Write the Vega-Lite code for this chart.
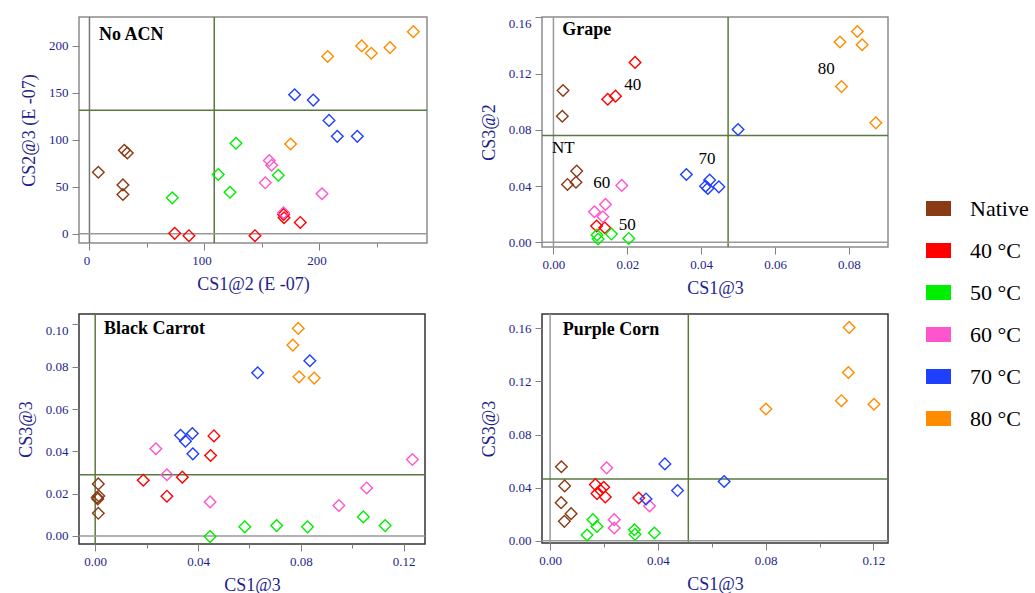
{
  "$schema": "https://vega.github.io/schema/vega-lite/v6.json",
  "padding": {"left": 16, "top": 15, "right": 0, "bottom": 0},
  "background": "white",
  "datasets": {
    "pts": [
      {"p":"A","g":"Native","x":7.7,"y":65.5},{"p":"A","g":"Native","x":30.3,"y":88.8},{"p":"A","g":"Native","x":32.9,"y":86.0},{"p":"A","g":"Native","x":29.1,"y":52.0},{"p":"A","g":"Native","x":29.1,"y":41.8},
      {"p":"A","g":"40 °C","x":74.1,"y":0.4},{"p":"A","g":"40 °C","x":86.5,"y":-2.1},{"p":"A","g":"40 °C","x":143.9,"y":-2.1},{"p":"A","g":"40 °C","x":168.8,"y":20.5},{"p":"A","g":"40 °C","x":169.2,"y":17.0},{"p":"A","g":"40 °C","x":183.3,"y":12.0},
      {"p":"A","g":"50 °C","x":72.0,"y":38.2},{"p":"A","g":"50 °C","x":112.0,"y":63.0},{"p":"A","g":"50 °C","x":127.4,"y":96.3},{"p":"A","g":"50 °C","x":122.2,"y":44.2},{"p":"A","g":"50 °C","x":164.2,"y":62.3},
      {"p":"A","g":"60 °C","x":156.4,"y":77.9},{"p":"A","g":"60 °C","x":158.4,"y":72.9},{"p":"A","g":"60 °C","x":152.9,"y":54.2},{"p":"A","g":"60 °C","x":168.8,"y":22.3},{"p":"A","g":"60 °C","x":202.2,"y":42.5},
      {"p":"A","g":"70 °C","x":178.4,"y":148.0},{"p":"A","g":"70 °C","x":194.6,"y":142.3},{"p":"A","g":"70 °C","x":208.3,"y":120.7},{"p":"A","g":"70 °C","x":215.5,"y":103.7},{"p":"A","g":"70 °C","x":232.9,"y":103.7},
      {"p":"A","g":"80 °C","x":174.9,"y":95.6},{"p":"A","g":"80 °C","x":207.1,"y":188.7},{"p":"A","g":"80 °C","x":236.7,"y":200.0},{"p":"A","g":"80 °C","x":245.1,"y":192.2},{"p":"A","g":"80 °C","x":261.3,"y":198.2},{"p":"A","g":"80 °C","x":281.6,"y":215.2},

      {"p":"B","g":"Native","x":0.0026,"y":0.108},{"p":"B","g":"Native","x":0.0024,"y":0.0897},{"p":"B","g":"Native","x":0.0063,"y":0.0507},{"p":"B","g":"Native","x":0.0061,"y":0.0428},{"p":"B","g":"Native","x":0.0038,"y":0.0412},
      {"p":"B","g":"40 °C","x":0.0221,"y":0.128},{"p":"B","g":"40 °C","x":0.0168,"y":0.104},{"p":"B","g":"40 °C","x":0.0147,"y":0.1018},{"p":"B","g":"40 °C","x":0.0117,"y":0.0116},{"p":"B","g":"40 °C","x":0.0139,"y":0.0104},
      {"p":"B","g":"50 °C","x":0.0118,"y":0.0052},{"p":"B","g":"50 °C","x":0.0121,"y":0.0024},{"p":"B","g":"50 °C","x":0.0157,"y":0.0059},{"p":"B","g":"50 °C","x":0.0204,"y":0.0028},
      {"p":"B","g":"60 °C","x":0.0185,"y":0.0405},{"p":"B","g":"60 °C","x":0.0141,"y":0.027},{"p":"B","g":"60 °C","x":0.0111,"y":0.0218},{"p":"B","g":"60 °C","x":0.0134,"y":0.0182},
      {"p":"B","g":"70 °C","x":0.036,"y":0.0483},{"p":"B","g":"70 °C","x":0.0423,"y":0.0443},{"p":"B","g":"70 °C","x":0.0412,"y":0.040},{"p":"B","g":"70 °C","x":0.0418,"y":0.0384},{"p":"B","g":"70 °C","x":0.0448,"y":0.0395},{"p":"B","g":"70 °C","x":0.05,"y":0.0803},
      {"p":"B","g":"80 °C","x":0.0823,"y":0.150},{"p":"B","g":"80 °C","x":0.0776,"y":0.1425},{"p":"B","g":"80 °C","x":0.0836,"y":0.1406},{"p":"B","g":"80 °C","x":0.078,"y":0.1108},{"p":"B","g":"80 °C","x":0.0873,"y":0.085},

      {"p":"C","g":"Native","x":0.0012,"y":0.0246},{"p":"C","g":"Native","x":0.0014,"y":0.0189},{"p":"C","g":"Native","x":0.001,"y":0.0175},{"p":"C","g":"Native","x":0.0012,"y":0.0107},{"p":"C","g":"Native","x":0.0008,"y":0.0182},
      {"p":"C","g":"40 °C","x":0.0187,"y":0.0263},{"p":"C","g":"40 °C","x":0.0339,"y":0.0278},{"p":"C","g":"40 °C","x":0.0279,"y":0.0188},{"p":"C","g":"40 °C","x":0.0449,"y":0.038},{"p":"C","g":"40 °C","x":0.0462,"y":0.0473},
      {"p":"C","g":"50 °C","x":0.0447,"y":-0.0003},{"p":"C","g":"50 °C","x":0.0582,"y":0.0043},{"p":"C","g":"50 °C","x":0.0706,"y":0.0049},{"p":"C","g":"50 °C","x":0.0826,"y":0.0043},{"p":"C","g":"50 °C","x":0.1043,"y":0.009},{"p":"C","g":"50 °C","x":0.1128,"y":0.0049},
      {"p":"C","g":"60 °C","x":0.0236,"y":0.0412},{"p":"C","g":"60 °C","x":0.0279,"y":0.0289},{"p":"C","g":"60 °C","x":0.0447,"y":0.0161},{"p":"C","g":"60 °C","x":0.0948,"y":0.0144},{"p":"C","g":"60 °C","x":0.1056,"y":0.0227},{"p":"C","g":"60 °C","x":0.1234,"y":0.0361},
      {"p":"C","g":"70 °C","x":0.0332,"y":0.0476},{"p":"C","g":"70 °C","x":0.0378,"y":0.0484},{"p":"C","g":"70 °C","x":0.0351,"y":0.0448},{"p":"C","g":"70 °C","x":0.038,"y":0.0388},{"p":"C","g":"70 °C","x":0.0632,"y":0.0771},{"p":"C","g":"70 °C","x":0.0835,"y":0.0828},
      {"p":"C","g":"80 °C","x":0.079,"y":0.0981},{"p":"C","g":"80 °C","x":0.0769,"y":0.0902},{"p":"C","g":"80 °C","x":0.0793,"y":0.0752},{"p":"C","g":"80 °C","x":0.0852,"y":0.0746},

      {"p":"D","g":"Native","x":0.0042,"y":0.0557},{"p":"D","g":"Native","x":0.0054,"y":0.0413},{"p":"D","g":"Native","x":0.0041,"y":0.0287},{"p":"D","g":"Native","x":0.0078,"y":0.0204},{"p":"D","g":"Native","x":0.0053,"y":0.0146},
      {"p":"D","g":"40 °C","x":0.0168,"y":0.0423},{"p":"D","g":"40 °C","x":0.0199,"y":0.0403},{"p":"D","g":"40 °C","x":0.0174,"y":0.0355},{"p":"D","g":"40 °C","x":0.0205,"y":0.033},{"p":"D","g":"40 °C","x":0.0329,"y":0.0322},{"p":"D","g":"40 °C","x":0.0187,"y":0.038},
      {"p":"D","g":"50 °C","x":0.0159,"y":0.0159},{"p":"D","g":"50 °C","x":0.0174,"y":0.0108},{"p":"D","g":"50 °C","x":0.0137,"y":0.0043},{"p":"D","g":"50 °C","x":0.0313,"y":0.0083},{"p":"D","g":"50 °C","x":0.0315,"y":0.0048},{"p":"D","g":"50 °C","x":0.0387,"y":0.0058},
      {"p":"D","g":"60 °C","x":0.021,"y":0.0549},{"p":"D","g":"60 °C","x":0.0238,"y":0.0159},{"p":"D","g":"60 °C","x":0.0238,"y":0.0096},{"p":"D","g":"60 °C","x":0.0369,"y":0.0262},
      {"p":"D","g":"70 °C","x":0.0426,"y":0.0579},{"p":"D","g":"70 °C","x":0.0473,"y":0.0378},{"p":"D","g":"70 °C","x":0.0356,"y":0.0315},{"p":"D","g":"70 °C","x":0.0646,"y":0.0446},
      {"p":"D","g":"80 °C","x":0.111,"y":0.1607},{"p":"D","g":"80 °C","x":0.1107,"y":0.1267},{"p":"D","g":"80 °C","x":0.1081,"y":0.1055},{"p":"D","g":"80 °C","x":0.1202,"y":0.1028},{"p":"D","g":"80 °C","x":0.0801,"y":0.0992}
    ],
    "rules": [
      {"p":"A","dir":"v","val":0,"kind":"gray"},{"p":"A","dir":"h","val":0,"kind":"gray"},{"p":"A","dir":"v","val":108.5,"kind":"green"},{"p":"A","dir":"h","val":131.4,"kind":"green"},
      {"p":"B","dir":"v","val":0,"kind":"gray"},{"p":"B","dir":"h","val":0,"kind":"gray"},{"p":"B","dir":"v","val":0.0473,"kind":"green"},{"p":"B","dir":"h","val":0.076,"kind":"green"},
      {"p":"C","dir":"v","val":0,"kind":"green"},{"p":"C","dir":"h","val":0,"kind":"gray"},{"p":"C","dir":"h","val":0.0289,"kind":"green"},
      {"p":"D","dir":"v","val":0,"kind":"gray"},{"p":"D","dir":"h","val":0,"kind":"gray"},{"p":"D","dir":"v","val":0.0513,"kind":"green"},{"p":"D","dir":"h","val":0.0465,"kind":"green"}
    ],
    "labels": [
      {"p":"A","t":"No ACN","kind":"title","x":8.3,"y":212},
      {"p":"B","t":"Grape","kind":"title","x":0.0024,"y":0.1513},
      {"p":"C","t":"Black Carrot","kind":"title","x":0.0034,"y":0.0976},
      {"p":"D","t":"Purple Corn","kind":"title","x":0.0047,"y":0.159},
      {"p":"B","t":"40","kind":"note","x":0.0215,"y":0.1117},
      {"p":"B","t":"80","kind":"note","x":0.0739,"y":0.1236},
      {"p":"B","t":"NT","kind":"note","x":0.0027,"y":0.0668},
      {"p":"B","t":"70","kind":"note","x":0.0416,"y":0.0592},
      {"p":"B","t":"60","kind":"note","x":0.0131,"y":0.0419},
      {"p":"B","t":"50","kind":"note","x":0.020,"y":0.0123}
    ]
  },
  "columns": 2,
  "spacing": {"row": 14, "column": 50},
  "resolve": {"scale": {"x": "independent", "y": "independent", "color": "shared"}, "legend": {"color": "shared"}},
  "concat": [
    {
      "width": 348, "height": 226,
      "view": {"stroke": "#8c8c8c", "strokeWidth": 1.5},
      "layer": [
        {"data": {"name": "rules"}, "transform": [{"filter": "datum.p==='A' && datum.dir==='v'"}],
         "mark": {"type": "rule", "strokeWidth": 1.5},
         "encoding": {"x": {"field": "val", "type": "quantitative"},
                      "color": {"condition": {"test": "datum.kind==='green'", "value": "#587a3e"}, "value": "#777777"}}},
        {"data": {"name": "rules"}, "transform": [{"filter": "datum.p==='A' && datum.dir==='h'"}],
         "mark": {"type": "rule", "strokeWidth": 1.5},
         "encoding": {"y": {"field": "val", "type": "quantitative"},
                      "color": {"condition": {"test": "datum.kind==='green'", "value": "#587a3e"}, "value": "#999999"}}},
        {"data": {"name": "pts"}, "transform": [{"filter": "datum.p==='A'"}],
         "mark": {"type": "point", "shape": "diamond", "filled": false, "size": 135, "strokeWidth": 1.4, "opacity": 1},
         "encoding": {
           "x": {"field": "x", "type": "quantitative", "title": "CS1@2 (E -07)",
                 "scale": {"domain": [-9.1, 293.5], "nice": false, "zero": false},
                 "axis": {"values": [0, 50, 100, 150, 200, 250], "labelExpr": "datum.value % 100 === 0 ? datum.label : ''",
                          "tickSize": {"condition": {"test": "datum.value % 100 === 0", "value": 7}, "value": 4}, "labelOffset": -3}},
           "y": {"field": "y", "type": "quantitative", "title": "CS2@3 (E -07)",
                 "scale": {"domain": [-9.9, 230.8], "nice": false, "zero": false},
                 "axis": {"values": [0, 25, 50, 75, 100, 125, 150, 175, 200, 225], "labelExpr": "datum.value % 50 === 0 ? datum.label : ''",
                          "tickSize": {"condition": {"test": "datum.value % 50 === 0", "value": 7}, "value": 4}}},
           "color": {"field": "g", "type": "nominal",
                     "scale": {"domain": ["Native", "40 °C", "50 °C", "60 °C", "70 °C", "80 °C"], "range": ["#8a3a14", "#ff0000", "#00ee00", "#ff55cc", "#1f3fff", "#ff8c00"]}}
         }},
        {"data": {"name": "labels"}, "transform": [{"filter": "datum.p==='A' && datum.kind==='title'"}],
         "mark": {"type": "text", "font": "Liberation Serif", "fontSize": 18, "fontWeight": "bold", "align": "left", "baseline": "middle", "color": "black"},
         "encoding": {"x": {"field": "x", "type": "quantitative"}, "y": {"field": "y", "type": "quantitative"}, "text": {"field": "t"}}}
      ]
    },
    {
      "width": 346, "height": 230,
      "view": {"stroke": "#8c8c8c", "strokeWidth": 1.5},
      "layer": [
        {"data": {"name": "rules"}, "transform": [{"filter": "datum.p==='B' && datum.dir==='v'"}],
         "mark": {"type": "rule", "strokeWidth": 1.5},
         "encoding": {"x": {"field": "val", "type": "quantitative"},
                      "color": {"condition": {"test": "datum.kind==='green'", "value": "#587a3e"}, "value": "#999999"}}},
        {"data": {"name": "rules"}, "transform": [{"filter": "datum.p==='B' && datum.dir==='h'"}],
         "mark": {"type": "rule", "strokeWidth": 1.5},
         "encoding": {"y": {"field": "val", "type": "quantitative"},
                      "color": {"condition": {"test": "datum.kind==='green'", "value": "#587a3e"}, "value": "#999999"}}},
        {"data": {"name": "pts"}, "transform": [{"filter": "datum.p==='B'"}],
         "mark": {"type": "point", "shape": "diamond", "filled": false, "size": 135, "strokeWidth": 1.4, "opacity": 1},
         "encoding": {
           "x": {"field": "x", "type": "quantitative", "title": "CS1@3",
                 "scale": {"domain": [-0.0031, 0.0906], "nice": false, "zero": false},
                 "axis": {"values": [0, 0.01, 0.02, 0.03, 0.04, 0.05, 0.06, 0.07, 0.08, 0.09], "format": ".2f",
                          "labelExpr": "abs(datum.value/0.02 - round(datum.value/0.02)) < 0.001 ? datum.label : ''",
                          "tickSize": {"condition": {"test": "abs(datum.value/0.02 - round(datum.value/0.02)) < 0.001", "value": 7}, "value": 4}}},
           "y": {"field": "y", "type": "quantitative", "title": "CS3@2",
                 "scale": {"domain": [-0.0033, 0.1603], "nice": false, "zero": false},
                 "axis": {"values": [0, 0.02, 0.04, 0.06, 0.08, 0.10, 0.12, 0.14, 0.16], "format": ".2f",
                          "labelExpr": "abs(datum.value/0.04 - round(datum.value/0.04)) < 0.001 ? datum.label : ''",
                          "labelBaseline": {"condition": {"test": "datum.value > 0.159", "value": "top"}, "value": "middle"},
                          "tickSize": {"condition": {"test": "abs(datum.value/0.04 - round(datum.value/0.04)) < 0.001", "value": 7}, "value": 4}}},
           "color": {"field": "g", "type": "nominal"}
         }},
        {"data": {"name": "labels"}, "transform": [{"filter": "datum.p==='B' && datum.kind==='title'"}],
         "mark": {"type": "text", "font": "Liberation Serif", "fontSize": 18, "fontWeight": "bold", "align": "left", "baseline": "middle", "color": "black"},
         "encoding": {"x": {"field": "x", "type": "quantitative"}, "y": {"field": "y", "type": "quantitative"}, "text": {"field": "t"}}},
        {"data": {"name": "labels"}, "transform": [{"filter": "datum.p==='B' && datum.kind==='note'"}],
         "mark": {"type": "text", "font": "Liberation Serif", "fontSize": 17, "align": "center", "baseline": "middle", "color": "black"},
         "encoding": {"x": {"field": "x", "type": "quantitative"}, "y": {"field": "y", "type": "quantitative"}, "text": {"field": "t"}}}
      ]
    },
    {
      "width": 346, "height": 230,
      "view": {"stroke": "#333333", "strokeWidth": 1.5},
      "layer": [
        {"data": {"name": "rules"}, "transform": [{"filter": "datum.p==='C' && datum.dir==='v'"}],
         "mark": {"type": "rule", "strokeWidth": 1.5},
         "encoding": {"x": {"field": "val", "type": "quantitative"},
                      "color": {"condition": {"test": "datum.kind==='green'", "value": "#587a3e"}, "value": "#999999"}}},
        {"data": {"name": "rules"}, "transform": [{"filter": "datum.p==='C' && datum.dir==='h'"}],
         "mark": {"type": "rule", "strokeWidth": 1.5},
         "encoding": {"y": {"field": "val", "type": "quantitative"},
                      "color": {"condition": {"test": "datum.kind==='green'", "value": "#587a3e"}, "value": "#999999"}}},
        {"data": {"name": "pts"}, "transform": [{"filter": "datum.p==='C'"}],
         "mark": {"type": "point", "shape": "diamond", "filled": false, "size": 135, "strokeWidth": 1.4, "opacity": 1},
         "encoding": {
           "x": {"field": "x", "type": "quantitative", "title": "CS1@3",
                 "scale": {"domain": [-0.0063, 0.1283], "nice": false, "zero": false},
                 "axis": {"values": [0, 0.02, 0.04, 0.06, 0.08, 0.10, 0.12], "format": ".2f",
                          "labelExpr": "abs(datum.value/0.04 - round(datum.value/0.04)) < 0.001 ? datum.label : ''",
                          "tickSize": {"condition": {"test": "abs(datum.value/0.04 - round(datum.value/0.04)) < 0.001", "value": 7}, "value": 4}}},
           "y": {"field": "y", "type": "quantitative", "title": "CS3@3",
                 "scale": {"domain": [-0.0038, 0.1049], "nice": false, "zero": false},
                 "axis": {"values": [0, 0.01, 0.02, 0.03, 0.04, 0.05, 0.06, 0.07, 0.08, 0.09, 0.10], "format": ".2f",
                          "labelExpr": "abs(datum.value/0.02 - round(datum.value/0.02)) < 0.001 ? datum.label : ''",
                          "labelBaseline": {"condition": {"test": "datum.value > 0.099", "value": "top"}, "value": "middle"},
                          "tickSize": {"condition": {"test": "abs(datum.value/0.02 - round(datum.value/0.02)) < 0.001", "value": 7}, "value": 4}}},
           "color": {"field": "g", "type": "nominal"}
         }},
        {"data": {"name": "labels"}, "transform": [{"filter": "datum.p==='C' && datum.kind==='title'"}],
         "mark": {"type": "text", "font": "Liberation Serif", "fontSize": 18, "fontWeight": "bold", "align": "left", "baseline": "middle", "color": "black"},
         "encoding": {"x": {"field": "x", "type": "quantitative"}, "y": {"field": "y", "type": "quantitative"}, "text": {"field": "t"}}}
      ]
    },
    {
      "width": 346, "height": 229,
      "view": {"stroke": "#333333", "strokeWidth": 1.5},
      "layer": [
        {"data": {"name": "rules"}, "transform": [{"filter": "datum.p==='D' && datum.dir==='v'"}],
         "mark": {"type": "rule", "strokeWidth": 1.5},
         "encoding": {"x": {"field": "val", "type": "quantitative"},
                      "color": {"condition": {"test": "datum.kind==='green'", "value": "#587a3e"}, "value": "#999999"}}},
        {"data": {"name": "rules"}, "transform": [{"filter": "datum.p==='D' && datum.dir==='h'"}],
         "mark": {"type": "rule", "strokeWidth": 1.5},
         "encoding": {"y": {"field": "val", "type": "quantitative"},
                      "color": {"condition": {"test": "datum.kind==='green'", "value": "#587a3e"}, "value": "#999999"}}},
        {"data": {"name": "pts"}, "transform": [{"filter": "datum.p==='D'"}],
         "mark": {"type": "point", "shape": "diamond", "filled": false, "size": 135, "strokeWidth": 1.4, "opacity": 1},
         "encoding": {
           "x": {"field": "x", "type": "quantitative", "title": "CS1@3",
                 "scale": {"domain": [-0.003, 0.1254], "nice": false, "zero": false},
                 "axis": {"values": [0, 0.02, 0.04, 0.06, 0.08, 0.10, 0.12], "format": ".2f",
                          "labelExpr": "abs(datum.value/0.04 - round(datum.value/0.04)) < 0.001 ? datum.label : ''",
                          "tickSize": {"condition": {"test": "abs(datum.value/0.04 - round(datum.value/0.04)) < 0.001", "value": 7}, "value": 4}}},
           "y": {"field": "y", "type": "quantitative", "title": "CS3@3",
                 "scale": {"domain": [-0.0017, 0.1708], "nice": false, "zero": false},
                 "axis": {"values": [0, 0.02, 0.04, 0.06, 0.08, 0.10, 0.12, 0.14, 0.16], "format": ".2f",
                          "labelExpr": "abs(datum.value/0.04 - round(datum.value/0.04)) < 0.001 ? datum.label : ''",
                          "tickSize": {"condition": {"test": "abs(datum.value/0.04 - round(datum.value/0.04)) < 0.001", "value": 7}, "value": 4}}},
           "color": {"field": "g", "type": "nominal"}
         }},
        {"data": {"name": "labels"}, "transform": [{"filter": "datum.p==='D' && datum.kind==='title'"}],
         "mark": {"type": "text", "font": "Liberation Serif", "fontSize": 18, "fontWeight": "bold", "align": "left", "baseline": "middle", "color": "black"},
         "encoding": {"x": {"field": "x", "type": "quantitative"}, "y": {"field": "y", "type": "quantitative"}, "text": {"field": "t"}}}
      ]
    }
  ],
  "config": {
    "font": "Liberation Serif",
    "axis": {
      "domain": false, "grid": false,
      "tickColor": "#808080", "tickWidth": 1,
      "labelFont": "Liberation Serif", "labelFontSize": 13, "labelColor": "#1e1e8c", "labelPadding": 4,
      "titleFont": "Liberation Serif", "titleFontSize": 18, "titleFontWeight": "normal", "titleColor": "#1e1e8c"
    },
    "axisY": {"titlePadding": 10},
    "axisX": {"titlePadding": 8},
    "legend": {
      "orient": "none", "legendX": 845, "legendY": 177,
      "title": null,
      "symbolType": "M-1,-0.48L1,-0.48M-1,-0.24L1,-0.24M-1,0L1,0M-1,0.24L1,0.24M-1,0.48L1,0.48",
      "symbolSize": 625, "symbolStrokeWidth": 3.2, "symbolOpacity": 1,
      "labelFont": "Liberation Serif", "labelFontSize": 22, "labelColor": "black", "labelOffset": 17,
      "rowPadding": 15
    }
  }
}
